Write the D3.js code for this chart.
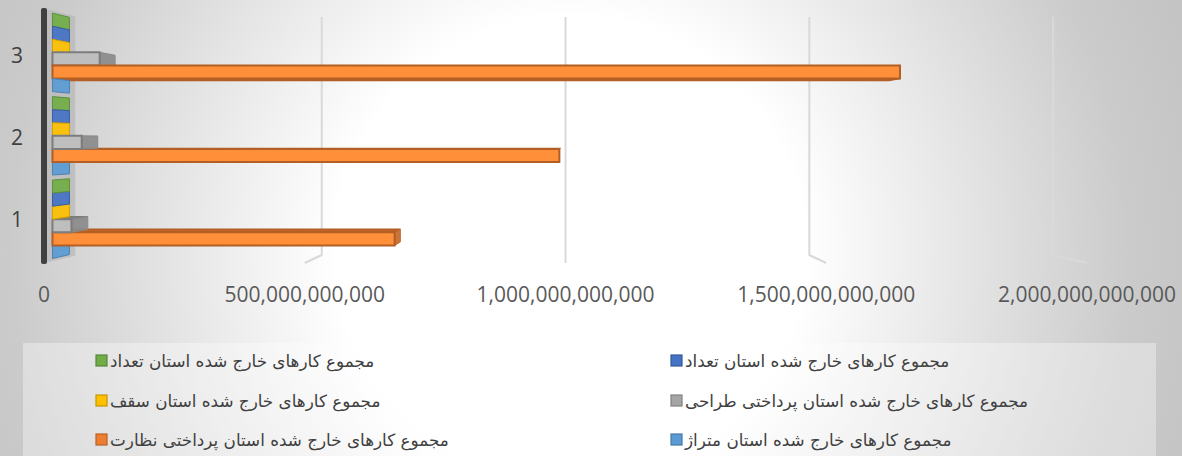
<!DOCTYPE html>
<html>
<head>
<meta charset="utf-8">
<script src="https://cdn.jsdelivr.net/npm/d3@7/dist/d3.min.js"></script>
<style>
  body { margin: 0; overflow: hidden; }
  svg { display: block; }
</style>
</head>
<body>
<svg width="1182" height="456"></svg>
<script>
// data
var categories = ["3", "2", "1"];          // top to bottom
var seriesNames = [
  "مجموع کار\u200cهای خارج شده استان متراژ",
  "مجموع کار\u200cهای خارج شده استان پرداختی نظارت",
  "مجموع کار\u200cهای خارج شده استان پرداختی طراحی",
  "مجموع کار\u200cهای خارج شده استان سقف",
  "مجموع کار\u200cهای خارج شده استان تعداد",
  "مجموع کار\u200cهای خارج شده استان تعداد"
];
var seriesColors = ["#5b9bd5", "#ed7d31", "#a5a5a5", "#ffc000", "#4472c4", "#70ad47"];
// values per category, order 1,2,3
var metrage     = [21000, 34000, 52000];
var supervision = [667e9, 988e9, 1652e9];
var design      = [37e9, 57e9, 92e9];
var ceiling     = [9000, 14000, 21000];
var countA      = [120, 180, 260];
var countB      = [120, 180, 260];
var seriesValues = [metrage, supervision, design, ceiling, countA, countB];
var catOrder = ["1", "2", "3"];
var tickValues = [0, 5e11, 1e12, 1.5e12, 2e12];

var svg = d3.select("svg"),
    W = 1182, H = 456;

var defs = svg.append("defs");
var bg = defs.append("radialGradient")
    .attr("id", "bg")
    .attr("gradientUnits", "userSpaceOnUse")
    .attr("cx", 570).attr("cy", 250).attr("r", 650);
bg.append("stop").attr("offset", 0).attr("stop-color", "#ffffff");
bg.append("stop").attr("offset", 0.36).attr("stop-color", "#ffffff");
bg.append("stop").attr("offset", 0.86).attr("stop-color", "#cbcbcb");
bg.append("stop").attr("offset", 1).attr("stop-color", "#c4c4c4");

svg.append("rect").attr("width", W).attr("height", H).attr("fill", "url(#bg)");

// perspective helpers: front plane coords + depth t (0 front, 1 back)
var vpx = 566, vpy = 140, shrink = 0.065;
function P(X, Y, t) {
  var s = 1 - shrink * t;
  return [vpx + (X - vpx) * s, vpy + (Y - vpy) * s];
}
function poly(pts) { return "M" + pts.map(function(p) { return p[0] + "," + p[1]; }).join("L") + "Z"; }

var x = d3.scaleLinear().domain([0, 2e12]).range([44, 1087]);
var y = d3.scaleBand().domain(categories).range([8.5, 263]).paddingInner(0.06).paddingOuter(0.03);
var ys = d3.scaleBand().domain([5, 4, 3, 2, 1, 0]).range([0, y.bandwidth()]);

var yTop = 8.5, yBot = 263;

// gridlines: back wall + floor
var grid = svg.append("g");
tickValues.slice(1).forEach(function(v) {
  var a = P(x(v), yTop, 1), b = P(x(v), yBot, 1), c = P(x(v), yBot, 0);
  grid.append("path")
    .attr("d", "M" + a + "L" + b + "L" + c)
    .attr("fill", "none")
    .attr("stroke", "#d9d9d9")
    .attr("stroke-width", 2);
});

// left wall
svg.append("path")
  .attr("d", poly([P(x(0), yTop, 0), P(x(0), yTop, 0.92), P(x(0), yBot, 0.92), P(x(0), yBot, 0)]))
  .attr("fill", "#b8b8b8")
  .attr("fill-opacity", 0.75);
svg.append("rect")
  .attr("x", 41).attr("y", 8).attr("width", 6).attr("height", 256)
  .attr("rx", 2)
  .attr("fill", "#404040");

// bars
var t0 = 0.25, t1 = 0.75;
var bars = [];
seriesValues.forEach(function(vals, si) {
  vals.forEach(function(v, ci) {
    var cat = catOrder[ci];
    var Y0 = y(cat) + ys(si), Y1 = Y0 + ys.bandwidth();
    bars.push({ s: si, v: v, X0: x(0), X1: x(v), Y0: Y0, Y1: Y1,
      dist: Math.abs((Y0 + Y1) / 2 - vpy) });
  });
});
bars.sort(function(a, b) { return b.dist - a.dist; });

var gb = svg.append("g");
bars.forEach(function(d) {
  var base = d3.color(seriesColors[d.s]);
  var edge = base.darker(0.8).formatHex();
  var g = gb.append("g");
  // horizontal face
  var Yh = null;
  if (d.Y1 < vpy) Yh = d.Y1;
  else if (d.Y0 > vpy) Yh = d.Y0;
  if (Yh !== null && d.X1 - d.X0 > 0.5) {
    g.append("path")
      .attr("d", poly([P(d.X0, Yh, t0), P(d.X1, Yh, t0), P(d.X1, Yh, t1), P(d.X0, Yh, t1)]))
      .attr("fill", base.darker(0.6).formatHex())
      .attr("stroke", edge).attr("stroke-width", 1.5);
  }
  // end face
  if (d.X1 < vpx) {
    var bar = d.X1 - d.X0 > 0.5;
    g.append("path")
      .attr("d", poly([P(d.X1, d.Y0, t0), P(d.X1, d.Y0, t1), P(d.X1, d.Y1, t1), P(d.X1, d.Y1, t0)]))
      .attr("fill", bar ? base.darker(0.5).formatHex() : base.formatHex())
      .attr("fill-opacity", 0.92)
      .attr("stroke", base.darker(0.5).formatHex()).attr("stroke-width", 1);
  }
  // front face
  if (d.X1 - d.X0 > 0.5) {
    g.append("path")
      .attr("d", poly([P(d.X0, d.Y0, t0), P(d.X1, d.Y0, t0), P(d.X1, d.Y1, t0), P(d.X0, d.Y1, t0)]))
      .attr("fill", base.brighter(0.4).formatHex())
      .attr("stroke", edge).attr("stroke-width", 2);
  }
});

// value axis labels
svg.append("g").selectAll("text")
  .data(tickValues)
  .join("text")
  .attr("x", function(d) { return x(d); })
  .attr("y", 302)
  .attr("text-anchor", "middle")
  .attr("font-family", "'Open Sans', sans-serif")
  .attr("font-size", 21)
  .attr("fill", "#595959")
  .text(function(d) { return d3.format(",.0f")(d); });

// category labels
svg.append("g").selectAll("text")
  .data(categories)
  .join("text")
  .attr("x", 17)
  .attr("y", function(d) { return P(0, y(d) + y.bandwidth() / 2, 0.5)[1] + 9; })
  .attr("text-anchor", "middle")
  .attr("font-family", "'Open Sans', sans-serif")
  .attr("font-size", 21)
  .attr("fill", "#404040")
  .text(function(d) { return d; });

// legend
svg.append("rect")
  .attr("x", 23).attr("y", 343).attr("width", 1133).attr("height", 120)
  .attr("fill", "#ffffff").attr("fill-opacity", 0.35);

var rowY = [361, 401, 440], colX = [671, 96];
var lg = svg.append("g");
seriesNames.forEach(function(name, i) {
  var row = 2 - Math.floor(i / 2), col = i % 2;
  var c = d3.color(seriesColors[i]);
  lg.append("rect")
    .attr("x", colX[col]).attr("y", rowY[row] - 6)
    .attr("width", 11).attr("height", 11)
    .attr("fill", c.formatHex())
    .attr("stroke", c.darker(0.7).formatHex()).attr("stroke-width", 1.2);
  lg.append("text")
    .attr("x", colX[col] + 14)
    .attr("y", rowY[row] + 6)
    .attr("font-family", "'DejaVu Sans', sans-serif")
    .attr("font-size", 16.8)
    .attr("fill", "#404040")
    .text(name);
});
</script>
</body>
</html>
